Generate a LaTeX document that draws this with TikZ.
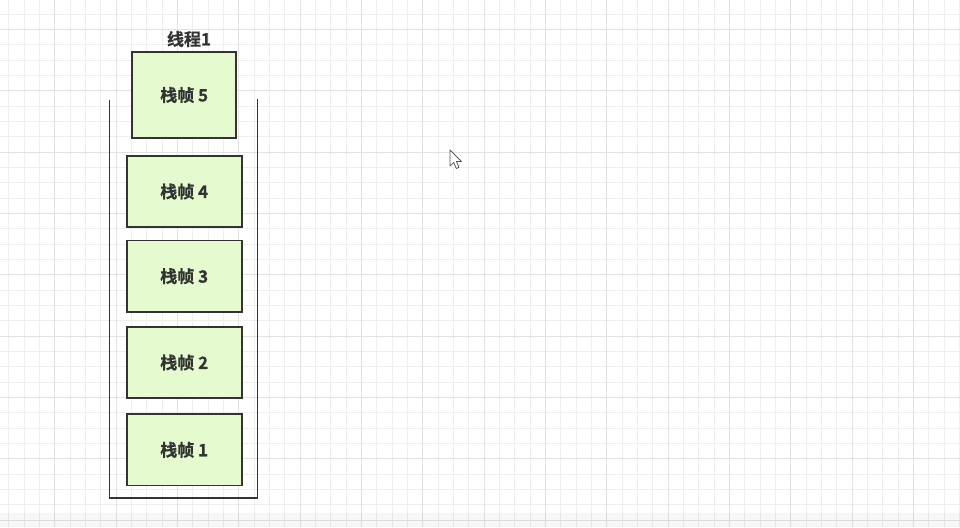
\documentclass[tikz,border=0pt]{standalone}
\usepackage{fontspec}
\setmainfont{Noto Sans CJK SC}[BoldFont={Noto Sans CJK SC Bold}, BoldFeatures={FakeBold=0.6}]
\begin{document}
\begin{tikzpicture}[x=1pt,y=-1pt,
  framebox/.style={draw=black!80, line width=1.8pt, fill=framefill, minimum width=115pt, minimum height=71.5pt, inner sep=0pt, font=\fontsize{17}{20}\selectfont\bfseries, text=black!80},
  wall/.style={draw=black!80, line width=1.8pt},
  minorgrid/.style={draw=gridminor, line width=0.8pt},
  majorgrid/.style={draw=gridmajor, line width=0.9pt}]
\definecolor{framefill}{HTML}{E6FAD0}
\definecolor{gridminor}{HTML}{EEEEEE}
\definecolor{gridmajor}{HTML}{E2E2E2}
\useasboundingbox (0,0) rectangle (960,527);
\fill[white] (0,0) rectangle (960,527);
% grid
\foreach \i in {0,...,62} {\draw[minorgrid] ({8.7+15.333*\i},0) -- ({8.7+15.333*\i},527);}
\foreach \i in {0,...,35} {\draw[minorgrid] (0,{-1.33+15.333*\i}) -- (960,{-1.33+15.333*\i});}
\foreach \i in {0,...,15} {\draw[majorgrid] ({54.7+61.333*\i},0) -- ({54.7+61.333*\i},527);}
\foreach \i in {0,...,8} {\draw[majorgrid] (0,{29.3+61.333*\i}) -- (960,{29.3+61.333*\i});}
\fill[black, opacity=0.03] (0,513) rectangle (960,527);
% container
\coordinate (tl) at (109.5,100);
\coordinate (bl) at (109.5,498);
\coordinate (br) at (257.5,498);
\coordinate (tr) at (257.5,99);
\draw[wall] (tl) -- (bl) -- (br) -- (tr);
% frames
\node[framebox, minimum width=104pt, minimum height=86.5pt] (f5) at (184.2,95) {\raisebox{-1.5pt}{栈帧 5}};
\node[framebox] (f4) at (184.2,191.5) {栈帧 4};
\node[framebox] (f3) at (184.2,276.2) {栈帧 3};
\node[framebox] (f2) at (184.2,362.5) {栈帧 2};
\node[framebox] (f1) at (184.2,449.8) {栈帧 1};
\node[font=\fontsize{17}{20}\selectfont\bfseries, text=black!80, inner sep=0pt] (title) at (189,39) {线程1};
% mouse cursor
\draw[draw=black!65, fill=white, line width=0.8pt, line join=round]
  (450,150) -- (450,166) -- (453.7,162.5) -- (456.3,168.5) -- (459,167.3) -- (456.4,161.5) -- (461.5,161.5) -- cycle;
\end{tikzpicture}
\end{document}
